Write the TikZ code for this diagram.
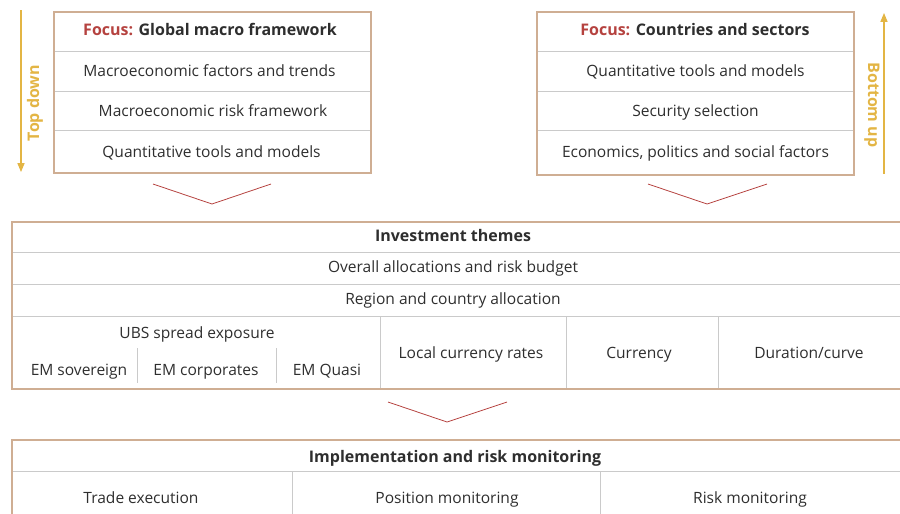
\documentclass[tikz,border=0pt]{standalone}
\usepackage{fontspec}
\setmainfont{Open Sans}
\usetikzlibrary{arrows.meta}
\definecolor{ubsred}{HTML}{B5423F}
\definecolor{frame}{HTML}{CFAE93}
\definecolor{rule}{HTML}{CACACA}
\definecolor{gold}{HTML}{E3B544}
\definecolor{txt}{HTML}{2E2E2E}
\tikzset{cell/.style={text=txt,font=\fontsize{8.85}{10}\selectfont,inner sep=0pt,anchor=base},
  head/.style={cell,font=\fontsize{9.1}{10}\selectfont\bfseries},
  rowline/.style={draw=rule,line width=0.5pt},
  frameline/.style={draw=frame,line width=0.6pt},
  chev/.style={draw=ubsred,line width=0.45pt},
  dir/.style={draw=gold,line width=0.6pt,-{Triangle[length=5pt,width=4pt]}},
  dirlabel/.style={text=gold,font=\fontsize{9.1}{10}\selectfont\bfseries,inner sep=0pt}}
\begin{document}
\begin{tikzpicture}[x=0.02cm,y=-0.02cm]
\useasboundingbox (0,0) rectangle (900,514);
\draw[rowline] (54,51)--(371,51) (54,91)--(371,91) (54,130)--(371,130);
\draw[frameline] (54,12) rectangle (371,173);
\node[head] (gm) at (210,35.5) {\textcolor{ubsred}{Focus:} Global macro framework};
\node[cell] (mf) at (209.5,76.5) {Macroeconomic factors and trends};
\node[cell] (mr) at (213,116.5) {Macroeconomic risk framework};
\node[cell] (qt) at (211.5,157.5) {Quantitative tools and models};
\coordinate (td1) at (21,10);
\coordinate (td2) at (21,172);
\draw[dir] (td1)--(td2);
\node[dirlabel,rotate=90] (td) at (35,103) {Top down};
\draw[rowline] (537,51)--(854,51) (537,91)--(854,91) (537,130)--(854,130);
\draw[frameline] (537,12) rectangle (854,175);
\node[head] (cs) at (695,35.5) {\textcolor{ubsred}{Focus:} Countries and sectors};
\node[cell] (qm) at (695.5,76.5) {Quantitative tools and models};
\node[cell] (ss) at (695.5,116.5) {Security selection};
\node[cell] (ep) at (695.5,157.5) {Economics, politics and social factors};
\coordinate (bu1) at (884,174);
\coordinate (bu2) at (884,13);
\draw[dir] (bu1)--(bu2);
\node[dirlabel,rotate=-90] (bu) at (872,105) {Bottom up};
\draw[chev] (153,184)--(212,204)--(271,184);
\draw[chev] (648,184)--(707,204)--(767,184);
\draw[rowline] (12,252)--(900,252) (12,284)--(900,284) (12,316)--(900,316)
  (380,316)--(380,389) (566,316)--(566,389) (718,316)--(718,389)
  (137,348)--(137,383) (276,348)--(276,383);
\draw[frameline] (900,222)--(12,222)--(12,389)--(900,389);
\node[head] (it) at (453,241.5) {Investment themes};
\node[cell] (oa) at (453,272.5) {Overall allocations and risk budget};
\node[cell] (rc) at (453,304.5) {Region and country allocation};
\node[cell] (se) at (197,338.5) {UBS spread exposure};
\node[cell] (es) at (79,375.5) {EM sovereign};
\node[cell] (ec) at (206,375.5) {EM corporates};
\node[cell] (eq) at (327,375.5) {EM Quasi};
\node[cell] (lc) at (471,358) {Local currency rates};
\node[cell] (cu) at (639,358) {Currency};
\node[cell] (dc) at (809,358) {Duration/curve};
\draw[chev] (388,402)--(447,422)--(507,402);
\draw[rowline] (12,471)--(900,471) (292,471)--(292,514) (600,471)--(600,514);
\draw[frameline] (900,440)--(12,440)--(12,514);
\node[head] (im) at (455,462) {Implementation and risk monitoring};
\node[cell] (te) at (141,503) {Trade execution};
\node[cell] (pm) at (447,503) {Position monitoring};
\node[cell] (rm) at (750,503) {Risk monitoring};
\end{tikzpicture}
\end{document}
